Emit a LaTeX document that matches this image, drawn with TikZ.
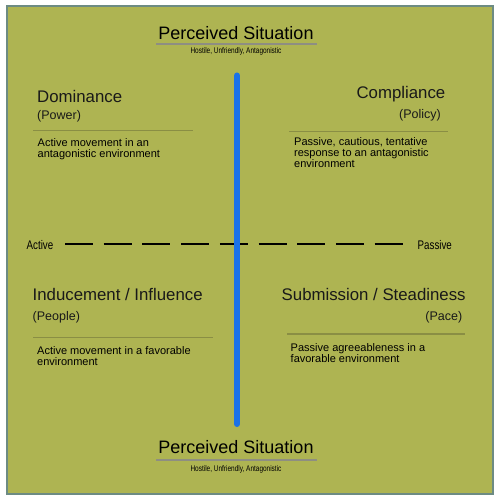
\documentclass[tikz,border=0pt]{standalone}
\usepackage{fontspec}
\setmainfont{Liberation Sans}
\newfontfamily\condfont[FakeStretch=0.78]{Liberation Sans}
\usetikzlibrary{positioning, calc}
\definecolor{olivebg}{HTML}{AEB452}
\definecolor{framegray}{HTML}{6D8B83}
\definecolor{axisblue}{HTML}{1A72E8}
\definecolor{ruleolive}{HTML}{8A8E44}
\definecolor{rulegray}{HTML}{8E8E82}

\begin{document}
\begin{tikzpicture}[
  x=1pt, y=-1pt,
  quadtitle/.style={font=\fontsize{16.8}{18}\selectfont, inner sep=0pt, text=black!90},
  quadsub/.style={font=\fontsize{12.5}{14}\selectfont, inner sep=0pt, text=black!90},
  quaddesc/.style={font=\fontsize{11}{11.2}\selectfont, inner sep=0pt, align=left, anchor=base west},
  sittitle/.style={font=\fontsize{18}{20}\selectfont, inner sep=0pt, anchor=base},
  sitsub/.style={font=\condfont\fontsize{8.3}{9}\selectfont, inner sep=0pt, anchor=base},
  axislabel/.style={font=\condfont\fontsize{12.5}{14}\selectfont, inner sep=0pt, anchor=base west},
  ruleline/.style={draw=#1, line width=1.2pt},
  ruleline/.default={ruleolive},
]

  % background and frame
  \useasboundingbox (0,0) rectangle (502,502);
  \fill[white] (0,0) rectangle (502,502);
  \draw[framegray, line width=2pt, fill=olivebg] (7,6) rectangle (493,494);

  % Perceived Situation (top)
  \node[sittitle] (toptitle) at (236,40) {Perceived Situation};
  \draw[ruleline=rulegray] (156,44) -- (317,44);
  \node[sitsub] (topsub) at (236,54) {Hostile, Unfriendly, Antagonistic};

  % Perceived Situation (bottom)
  \node[sittitle] (bottitle) at (236,453) {Perceived Situation};
  \draw[ruleline=rulegray] (156,460) -- (317,460);
  \node[sitsub] (botsub) at (236,471.5) {Hostile, Unfriendly, Antagonistic};

  % Active / Passive axis
  \node[axislabel] (active) at (26.5,249.3) {Active};
  \node[axislabel] (passive) at (417.5,249.3) {Passive};
  \coordinate (dashstart) at (65,244.3);
  \coordinate (dashend) at (404,244.3);
  \draw[black, line width=2pt, dash pattern=on 28pt off 10.7pt] (dashstart) -- (dashend);

  % Perceived Situation axis
  \coordinate (axistop) at (237,75.5);
  \coordinate (axisbot) at (237,424);
  \draw[axisblue, line width=6pt, line cap=round] (axistop) -- (axisbot);

  % Dominance (top left)
  \node[quadtitle, anchor=base west] (dom) at (37,103) {Dominance};
  \node[quadsub, anchor=base west] (domsub) at (37,120) {(Power)};
  \draw[ruleline] (33,130.5) -- (193,130.5);
  \node[quaddesc] (domtext) at (37.5,157.7) {Active movement in an\\antagonistic environment};

  % Compliance (top right)
  \node[quadtitle, anchor=base east] (comp) at (445.5,99) {Compliance};
  \node[quadsub, anchor=base east] (compsub) at (441,119) {(Policy)};
  \draw[ruleline] (289,131.5) -- (448,131.5);
  \node[quaddesc] (comptext) at (294,167.9) {Passive, cautious, tentative\\response to an antagonistic\\environment};

  % Inducement / Influence (bottom left)
  \node[quadtitle, anchor=base west] (ind) at (32.5,300.5) {Inducement / Influence};
  \node[quadsub, anchor=base west] (indsub) at (32.5,320) {(People)};
  \draw[ruleline] (33,337.3) -- (213,337.3);
  \node[quaddesc] (indtext) at (37,365.2) {Active movement in a favorable\\environment};

  % Submission / Steadiness (bottom right)
  \node[quadtitle, anchor=base west] (sub) at (281.5,300.5) {Submission / Steadiness};
  \node[quadsub, anchor=base east] (subsub) at (462.5,320) {(Pace)};
  \draw[ruleline] (287,334) -- (465,334);
  \node[quaddesc] (subtext) at (290.5,362.7) {Passive agreeableness in a\\favorable environment};

\end{tikzpicture}
\end{document}
